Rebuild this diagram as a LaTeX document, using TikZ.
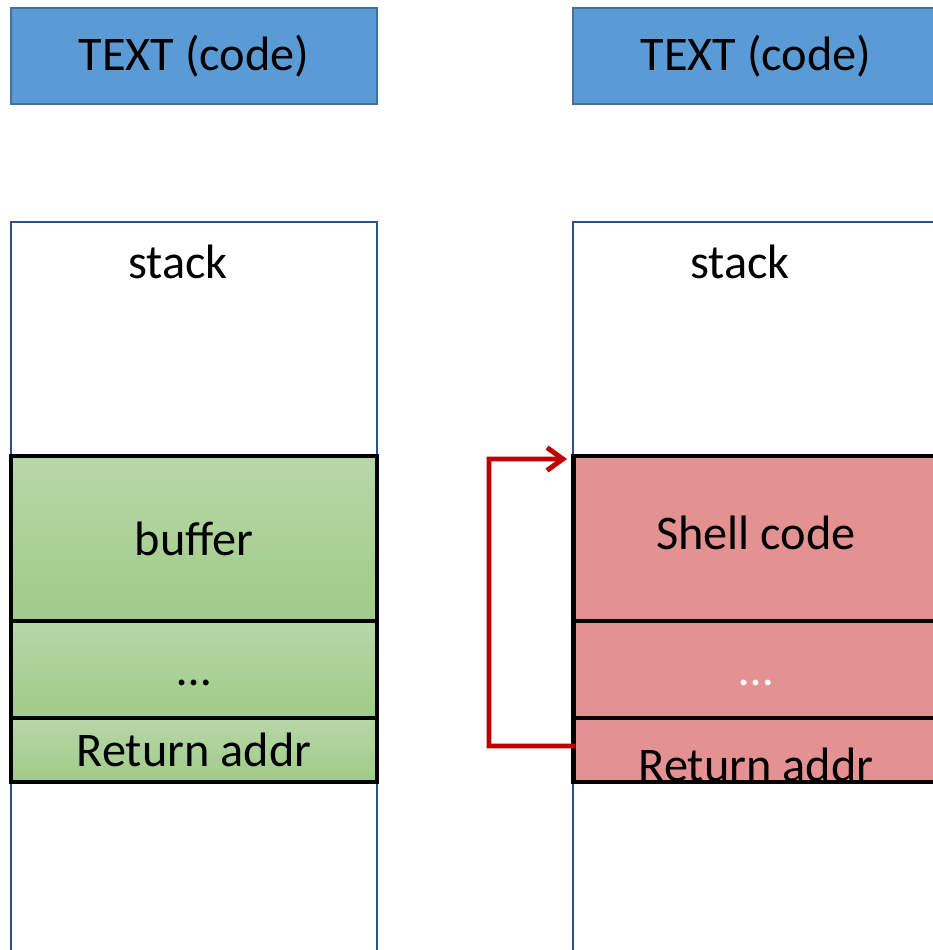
\documentclass[tikz,border=0pt]{standalone}
\usepackage{fontspec}
\setmainfont{Carlito}
\usepackage{tikz}

\definecolor{segblue}{RGB}{91,155,213}
\definecolor{segedge}{RGB}{65,113,156}
\definecolor{stackedge}{RGB}{47,82,143}
\definecolor{greentop}{RGB}{183,215,168}
\definecolor{greenbot}{RGB}{160,203,135}
\definecolor{shellred}{RGB}{227,145,145}
\definecolor{jumpred}{RGB}{192,0,0}

\tikzset{
  seg/.style={draw=segedge,line width=1.2pt,fill=segblue,minimum width=7.32cm,minimum height=1.92cm,inner sep=0pt,outer sep=0pt},
  stackbox/.style={draw=stackedge,line width=1.2pt,minimum width=7.32cm,minimum height=15.56cm,inner sep=0pt,outer sep=0pt},
  cell/.style={draw=black,line width=2.8pt,minimum width=7.32cm,inner sep=0pt,outer sep=0pt},
  goodcell/.style={cell,top color=greentop,bottom color=greenbot},
  badcell/.style={cell,fill=shellred},
  jump/.style={draw=jumpred,line width=2.8pt,line cap=round,line join=miter,-{Straight Barb[length=9pt,width=13pt]}}
}
\usetikzlibrary{arrows.meta}

\begin{document}
\begin{tikzpicture}[x=0.02cm,y=-0.02cm,font=\fontsize{27.5}{33}\selectfont]
			\useasboundingbox (0,0) rectangle (933,950);
			\clip (0,0) rectangle (933,950);
			% text segments
			\node[seg] (textL) at (194,56) {TEXT (code)};
			\node[seg] (textR) at (756,56) {TEXT (code)};
			% stacks
			\node[stackbox] (stackL) at (194,611) {};
			\node[stackbox] (stackR) at (756,611) {};
			\node (stackLblL) at (178,262) {stack};
			\node (stackLblR) at (740,262) {stack};
			% normal frame
			\node[goodcell,minimum height=3.3cm] (bufL) at (194,538.5) {buffer};
			\node[goodcell,minimum height=1.94cm] (dotsL) at (194,669.5) {};
			\node (dotsLblL) at (194,683) {\dots};
			\node[goodcell,minimum height=1.28cm] (retL) at (194,750) {Return addr};
			% overflowed frame
			\node[badcell,minimum height=3.3cm] (shellR) at (756,538.5) {};
			\node (shellLbl) at (756,533) {Shell code};
			\node[badcell,minimum height=1.94cm] (dotsR) at (756,669.5) {};
			\node[text=white] (dotsLblR) at (756,683) {\dots};
			\node[badcell,minimum height=1.28cm] (retR) at (756,750) {};
			\node (retLbl) at (756,765) {Return addr};
			\coordinate (loop) at (489,459);
			\draw[jump] ([yshift=0.08cm]retR.west) -| (loop) -- ([xshift=-0.12cm,yshift=-0.06cm]shellR.north west);
		\end{tikzpicture}
\end{document}
